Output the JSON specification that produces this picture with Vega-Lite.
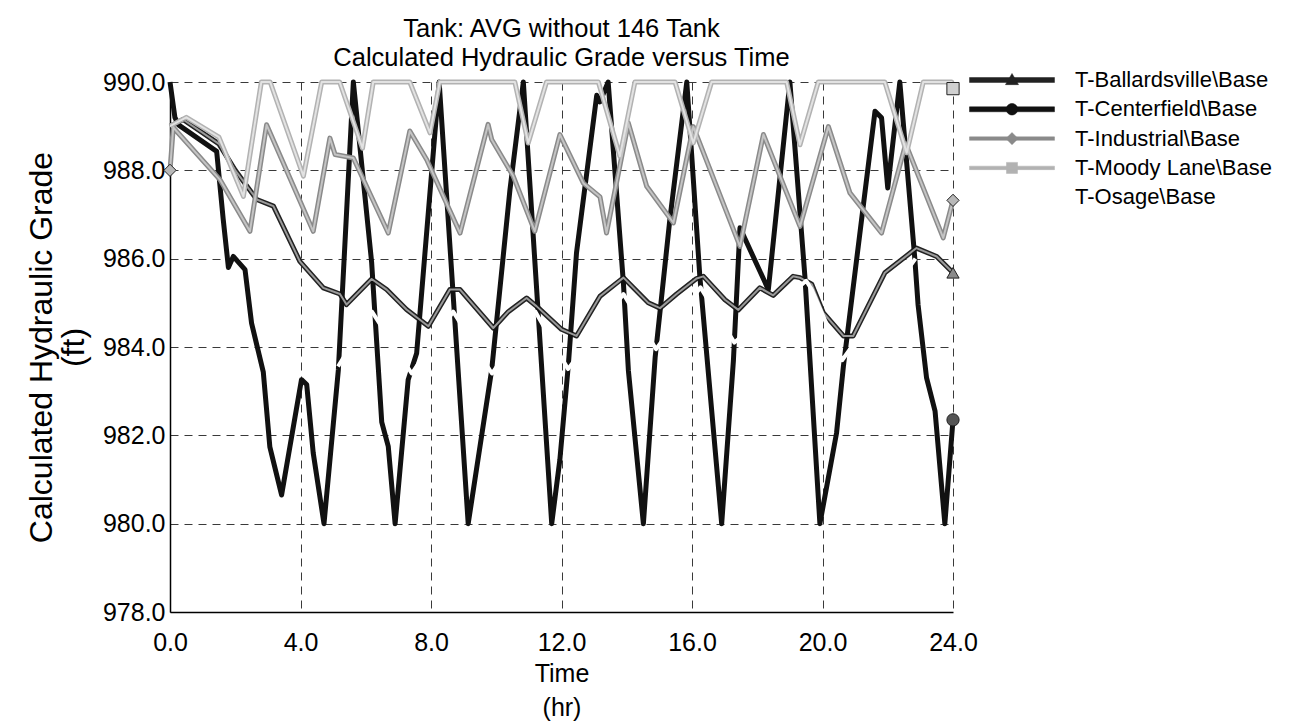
{
  "$schema": "https://vega.github.io/schema/vega-lite/v6.json",
  "width": 783,
  "height": 530,
  "autosize": {"type": "none"},
  "padding": {"left": 170, "top": 82, "right": 359, "bottom": 116},
  "background": "white",
  "title": {
    "text": ["Tank: AVG without 146 Tank", "Calculated Hydraulic Grade versus Time"],
    "font": "Liberation Sans",
    "fontSize": 25.5,
    "fontWeight": "normal",
    "lineHeight": 29,
    "color": "black",
    "anchor": "middle",
    "offset": -6
  },
  "data": {
    "values": [
      {"series": "T-Ballardsville\\Base", "t": 0, "v": 989.0},
      {"series": "T-Ballardsville\\Base", "t": 0.4, "v": 989.15},
      {"series": "T-Ballardsville\\Base", "t": 1.5, "v": 988.6},
      {"series": "T-Ballardsville\\Base", "t": 2.0, "v": 988.0},
      {"series": "T-Ballardsville\\Base", "t": 2.66, "v": 987.34},
      {"series": "T-Ballardsville\\Base", "t": 3.17, "v": 987.19},
      {"series": "T-Ballardsville\\Base", "t": 3.98, "v": 985.94},
      {"series": "T-Ballardsville\\Base", "t": 4.7, "v": 985.34},
      {"series": "T-Ballardsville\\Base", "t": 5.21, "v": 985.2},
      {"series": "T-Ballardsville\\Base", "t": 5.41, "v": 984.96},
      {"series": "T-Ballardsville\\Base", "t": 6.18, "v": 985.54},
      {"series": "T-Ballardsville\\Base", "t": 6.64, "v": 985.3},
      {"series": "T-Ballardsville\\Base", "t": 7.25, "v": 984.85},
      {"series": "T-Ballardsville\\Base", "t": 7.92, "v": 984.47},
      {"series": "T-Ballardsville\\Base", "t": 8.58, "v": 985.3},
      {"series": "T-Ballardsville\\Base", "t": 8.89, "v": 985.3},
      {"series": "T-Ballardsville\\Base", "t": 9.91, "v": 984.43},
      {"series": "T-Ballardsville\\Base", "t": 10.37, "v": 984.8},
      {"series": "T-Ballardsville\\Base", "t": 10.93, "v": 985.11},
      {"series": "T-Ballardsville\\Base", "t": 11.24, "v": 984.92},
      {"series": "T-Ballardsville\\Base", "t": 12.0, "v": 984.4},
      {"series": "T-Ballardsville\\Base", "t": 12.46, "v": 984.25},
      {"series": "T-Ballardsville\\Base", "t": 13.18, "v": 985.15},
      {"series": "T-Ballardsville\\Base", "t": 13.9, "v": 985.57},
      {"series": "T-Ballardsville\\Base", "t": 14.66, "v": 985.0},
      {"series": "T-Ballardsville\\Base", "t": 15.02, "v": 984.88},
      {"series": "T-Ballardsville\\Base", "t": 15.53, "v": 985.2},
      {"series": "T-Ballardsville\\Base", "t": 16.14, "v": 985.55},
      {"series": "T-Ballardsville\\Base", "t": 16.35, "v": 985.6},
      {"series": "T-Ballardsville\\Base", "t": 17.01, "v": 985.07},
      {"series": "T-Ballardsville\\Base", "t": 17.42, "v": 984.84},
      {"series": "T-Ballardsville\\Base", "t": 18.08, "v": 985.34},
      {"series": "T-Ballardsville\\Base", "t": 18.49, "v": 985.17},
      {"series": "T-Ballardsville\\Base", "t": 19.1, "v": 985.6},
      {"series": "T-Ballardsville\\Base", "t": 19.31, "v": 985.57},
      {"series": "T-Ballardsville\\Base", "t": 19.67, "v": 985.42},
      {"series": "T-Ballardsville\\Base", "t": 20.02, "v": 984.78},
      {"series": "T-Ballardsville\\Base", "t": 20.64, "v": 984.25},
      {"series": "T-Ballardsville\\Base", "t": 20.94, "v": 984.25},
      {"series": "T-Ballardsville\\Base", "t": 21.91, "v": 985.68},
      {"series": "T-Ballardsville\\Base", "t": 22.88, "v": 986.24},
      {"series": "T-Ballardsville\\Base", "t": 23.5, "v": 986.05},
      {"series": "T-Ballardsville\\Base", "t": 24, "v": 985.68},

      {"series": "T-Centerfield\\Base", "t": 0, "v": 990.0},
      {"series": "T-Centerfield\\Base", "t": 0.15, "v": 989.2},
      {"series": "T-Centerfield\\Base", "t": 0.26, "v": 989.03},
      {"series": "T-Centerfield\\Base", "t": 1.43, "v": 988.43},
      {"series": "T-Centerfield\\Base", "t": 1.63, "v": 986.9},
      {"series": "T-Centerfield\\Base", "t": 1.79, "v": 985.8},
      {"series": "T-Centerfield\\Base", "t": 1.94, "v": 986.05},
      {"series": "T-Centerfield\\Base", "t": 2.3, "v": 985.75},
      {"series": "T-Centerfield\\Base", "t": 2.5, "v": 984.54},
      {"series": "T-Centerfield\\Base", "t": 2.86, "v": 983.43},
      {"series": "T-Centerfield\\Base", "t": 3.06, "v": 981.74},
      {"series": "T-Centerfield\\Base", "t": 3.42, "v": 980.65},
      {"series": "T-Centerfield\\Base", "t": 4.03, "v": 983.26},
      {"series": "T-Centerfield\\Base", "t": 4.19, "v": 983.15},
      {"series": "T-Centerfield\\Base", "t": 4.39, "v": 981.6},
      {"series": "T-Centerfield\\Base", "t": 4.72, "v": 980.0},
      {"series": "T-Centerfield\\Base", "t": 5.16, "v": 983.48},
      {"series": "T-Centerfield\\Base", "t": 5.62, "v": 990.0},
      {"series": "T-Centerfield\\Base", "t": 6.18, "v": 985.92},
      {"series": "T-Centerfield\\Base", "t": 6.49, "v": 982.3},
      {"series": "T-Centerfield\\Base", "t": 6.69, "v": 981.75},
      {"series": "T-Centerfield\\Base", "t": 6.9, "v": 980.0},
      {"series": "T-Centerfield\\Base", "t": 7.3, "v": 983.26},
      {"series": "T-Centerfield\\Base", "t": 7.56, "v": 983.86},
      {"series": "T-Centerfield\\Base", "t": 8.25, "v": 990.0},
      {"series": "T-Centerfield\\Base", "t": 9.14, "v": 980.0},
      {"series": "T-Centerfield\\Base", "t": 9.86, "v": 983.48},
      {"series": "T-Centerfield\\Base", "t": 10.42, "v": 987.56},
      {"series": "T-Centerfield\\Base", "t": 10.83, "v": 990.0},
      {"series": "T-Centerfield\\Base", "t": 11.7, "v": 980.0},
      {"series": "T-Centerfield\\Base", "t": 11.95, "v": 981.45},
      {"series": "T-Centerfield\\Base", "t": 12.21, "v": 983.6},
      {"series": "T-Centerfield\\Base", "t": 12.46, "v": 986.13},
      {"series": "T-Centerfield\\Base", "t": 13.08, "v": 989.7},
      {"series": "T-Centerfield\\Base", "t": 13.18, "v": 989.55},
      {"series": "T-Centerfield\\Base", "t": 13.43, "v": 990.0},
      {"series": "T-Centerfield\\Base", "t": 13.9, "v": 985.42},
      {"series": "T-Centerfield\\Base", "t": 14.05, "v": 983.47},
      {"series": "T-Centerfield\\Base", "t": 14.51, "v": 980.0},
      {"series": "T-Centerfield\\Base", "t": 14.87, "v": 983.76},
      {"series": "T-Centerfield\\Base", "t": 15.32, "v": 986.88},
      {"series": "T-Centerfield\\Base", "t": 15.84, "v": 990.0},
      {"series": "T-Centerfield\\Base", "t": 16.24, "v": 985.6},
      {"series": "T-Centerfield\\Base", "t": 16.91, "v": 980.0},
      {"series": "T-Centerfield\\Base", "t": 17.27, "v": 983.7},
      {"series": "T-Centerfield\\Base", "t": 17.47, "v": 986.7},
      {"series": "T-Centerfield\\Base", "t": 18.34, "v": 985.3},
      {"series": "T-Centerfield\\Base", "t": 19.0, "v": 990.0},
      {"series": "T-Centerfield\\Base", "t": 19.46, "v": 985.6},
      {"series": "T-Centerfield\\Base", "t": 19.92, "v": 980.0},
      {"series": "T-Centerfield\\Base", "t": 20.43, "v": 982.05},
      {"series": "T-Centerfield\\Base", "t": 20.64, "v": 983.56},
      {"series": "T-Centerfield\\Base", "t": 21.61, "v": 989.34},
      {"series": "T-Centerfield\\Base", "t": 21.81, "v": 989.19},
      {"series": "T-Centerfield\\Base", "t": 22.0, "v": 987.6},
      {"series": "T-Centerfield\\Base", "t": 22.37, "v": 990.0},
      {"series": "T-Centerfield\\Base", "t": 22.83, "v": 986.0},
      {"series": "T-Centerfield\\Base", "t": 22.93, "v": 984.95},
      {"series": "T-Centerfield\\Base", "t": 23.19, "v": 983.3},
      {"series": "T-Centerfield\\Base", "t": 23.45, "v": 982.55},
      {"series": "T-Centerfield\\Base", "t": 23.75, "v": 980.0},
      {"series": "T-Centerfield\\Base", "t": 24, "v": 982.35},

      {"series": "T-Industrial\\Base", "t": 0, "v": 988.0},
      {"series": "T-Industrial\\Base", "t": 0.1, "v": 988.97},
      {"series": "T-Industrial\\Base", "t": 1.53, "v": 987.79},
      {"series": "T-Industrial\\Base", "t": 2.45, "v": 986.62},
      {"series": "T-Industrial\\Base", "t": 2.96, "v": 989.03},
      {"series": "T-Industrial\\Base", "t": 4.39, "v": 986.62},
      {"series": "T-Industrial\\Base", "t": 4.9, "v": 988.73},
      {"series": "T-Industrial\\Base", "t": 5.06, "v": 988.36},
      {"series": "T-Industrial\\Base", "t": 5.62, "v": 988.28},
      {"series": "T-Industrial\\Base", "t": 6.69, "v": 986.58},
      {"series": "T-Industrial\\Base", "t": 7.35, "v": 988.89},
      {"series": "T-Industrial\\Base", "t": 7.87, "v": 988.24},
      {"series": "T-Industrial\\Base", "t": 8.89, "v": 986.58},
      {"series": "T-Industrial\\Base", "t": 9.75, "v": 989.04},
      {"series": "T-Industrial\\Base", "t": 9.86, "v": 988.7},
      {"series": "T-Industrial\\Base", "t": 10.52, "v": 987.87},
      {"series": "T-Industrial\\Base", "t": 11.18, "v": 986.62},
      {"series": "T-Industrial\\Base", "t": 11.95, "v": 988.81},
      {"series": "T-Industrial\\Base", "t": 12.67, "v": 987.71},
      {"series": "T-Industrial\\Base", "t": 13.18, "v": 987.4},
      {"series": "T-Industrial\\Base", "t": 13.38, "v": 986.58},
      {"series": "T-Industrial\\Base", "t": 14.05, "v": 989.07},
      {"series": "T-Industrial\\Base", "t": 14.61, "v": 987.64},
      {"series": "T-Industrial\\Base", "t": 15.43, "v": 986.81},
      {"series": "T-Industrial\\Base", "t": 16.04, "v": 988.99},
      {"series": "T-Industrial\\Base", "t": 17.47, "v": 986.28},
      {"series": "T-Industrial\\Base", "t": 18.19, "v": 988.81},
      {"series": "T-Industrial\\Base", "t": 19.31, "v": 986.73},
      {"series": "T-Industrial\\Base", "t": 20.18, "v": 988.99},
      {"series": "T-Industrial\\Base", "t": 20.84, "v": 987.49},
      {"series": "T-Industrial\\Base", "t": 21.81, "v": 986.58},
      {"series": "T-Industrial\\Base", "t": 22.55, "v": 988.6},
      {"series": "T-Industrial\\Base", "t": 23.7, "v": 986.47},
      {"series": "T-Industrial\\Base", "t": 24, "v": 987.32},

      {"series": "T-Moody Lane\\Base", "t": 0, "v": 989.0},
      {"series": "T-Moody Lane\\Base", "t": 0.5, "v": 989.2},
      {"series": "T-Moody Lane\\Base", "t": 1.5, "v": 988.75},
      {"series": "T-Moody Lane\\Base", "t": 2.25, "v": 987.41},
      {"series": "T-Moody Lane\\Base", "t": 2.8, "v": 990.0},
      {"series": "T-Moody Lane\\Base", "t": 3.07, "v": 990.0},
      {"series": "T-Moody Lane\\Base", "t": 4.09, "v": 987.87},
      {"series": "T-Moody Lane\\Base", "t": 4.65, "v": 990.0},
      {"series": "T-Moody Lane\\Base", "t": 5.2, "v": 990.0},
      {"series": "T-Moody Lane\\Base", "t": 5.9, "v": 988.5},
      {"series": "T-Moody Lane\\Base", "t": 6.23, "v": 990.0},
      {"series": "T-Moody Lane\\Base", "t": 7.35, "v": 990.0},
      {"series": "T-Moody Lane\\Base", "t": 7.97, "v": 988.85},
      {"series": "T-Moody Lane\\Base", "t": 8.27, "v": 990.0},
      {"series": "T-Moody Lane\\Base", "t": 10.57, "v": 990.0},
      {"series": "T-Moody Lane\\Base", "t": 10.98, "v": 988.62},
      {"series": "T-Moody Lane\\Base", "t": 11.54, "v": 990.0},
      {"series": "T-Moody Lane\\Base", "t": 13.13, "v": 990.0},
      {"series": "T-Moody Lane\\Base", "t": 13.79, "v": 988.32},
      {"series": "T-Moody Lane\\Base", "t": 14.25, "v": 990.0},
      {"series": "T-Moody Lane\\Base", "t": 15.48, "v": 990.0},
      {"series": "T-Moody Lane\\Base", "t": 16.04, "v": 988.62},
      {"series": "T-Moody Lane\\Base", "t": 16.6, "v": 990.0},
      {"series": "T-Moody Lane\\Base", "t": 18.9, "v": 990.0},
      {"series": "T-Moody Lane\\Base", "t": 19.31, "v": 988.58},
      {"series": "T-Moody Lane\\Base", "t": 19.87, "v": 990.0},
      {"series": "T-Moody Lane\\Base", "t": 21.91, "v": 990.0},
      {"series": "T-Moody Lane\\Base", "t": 22.58, "v": 988.4},
      {"series": "T-Moody Lane\\Base", "t": 23.09, "v": 990.0},
      {"series": "T-Moody Lane\\Base", "t": 23.96, "v": 990.0},
      {"series": "T-Moody Lane\\Base", "t": 24, "v": 989.85},

      {"series": "T-Osage\\Base", "t": 5.15, "v": 983.56},
      {"series": "T-Osage\\Base", "t": 6.19, "v": 984.8},
      {"series": "T-Osage\\Base", "t": 7.41, "v": 983.4},
      {"series": "T-Osage\\Base", "t": 8.68, "v": 984.8},
      {"series": "T-Osage\\Base", "t": 9.87, "v": 983.4},
      {"series": "T-Osage\\Base", "t": 11.2, "v": 984.8},
      {"series": "T-Osage\\Base", "t": 12.2, "v": 983.5},
      {"series": "T-Osage\\Base", "t": 13.9, "v": 985.2},
      {"series": "T-Osage\\Base", "t": 14.9, "v": 983.95},
      {"series": "T-Osage\\Base", "t": 16.26, "v": 985.35},
      {"series": "T-Osage\\Base", "t": 17.3, "v": 984.1},
      {"series": "T-Osage\\Base", "t": 19.5, "v": 985.5},
      {"series": "T-Osage\\Base", "t": 19.67, "v": 985.3},
      {"series": "T-Osage\\Base", "t": 20.02, "v": 984.7},
      {"series": "T-Osage\\Base", "t": 20.6, "v": 983.7},
      {"series": "T-Osage\\Base", "t": 22.85, "v": 986.0}
    ]
  },
  "encoding": {
    "x": {
      "field": "t",
      "type": "quantitative",
      "scale": {"domain": [0, 24], "nice": false},
      "axis": {
        "values": [0, 4, 8, 12, 16, 20, 24],
        "format": ".1f",
        "labelPadding": 18,
        "labelFlush": false,
        "labelOverlap": false,
        "title": ["Time", "(hr)"],
        "titleLineHeight": 34,
        "titlePadding": 6
      }
    },
    "y": {
      "field": "v",
      "type": "quantitative",
      "scale": {"domain": [978, 990], "nice": false, "zero": false},
      "axis": {
        "values": [978, 980, 982, 984, 986, 988, 990],
        "format": ".1f",
        "labelPadding": 5,
        "labelFlush": false,
        "labelOverlap": false,
        "title": ["Calculated Hydraulic Grade", "(ft)"],
        "titleFontSize": 32,
        "titleLineHeight": 32,
        "titlePadding": 12
      }
    }
  },
  "layer": [
    {
      "transform": [{"filter": "indexof(datum.series, 'Osage') < 0"}],
      "mark": {"type": "line", "strokeWidth": 5, "strokeJoin": "round", "strokeCap": "butt"},
      "encoding": {
        "color": {
          "field": "series",
          "type": "nominal",
          "scale": {
            "domain": ["T-Ballardsville\\Base", "T-Centerfield\\Base", "T-Industrial\\Base", "T-Moody Lane\\Base", "T-Osage\\Base"],
            "range": ["#222222", "#111111", "#8a8a8a", "#b2b2b2", "#ffffff"]
          },
          "legend": {
            "title": null,
            "orient": "none",
            "legendX": 827,
            "legendY": -17,
            "padding": 0,
            "symbolSize": 841,
            "rowPadding": 3.3,
            "labelOffset": 48,
            "labelFontSize": 22,
            "labelFont": "Liberation Sans",
            "labelColor": "black",
            "labelLimit": 400,
            "symbolStrokeWidth": 0.5,
            "symbolOpacity": 1,
            "encode": {
              "symbols": {
                "update": {
                  "shape": {"signal": "indexof(datum.value,'Ballard')>=0 ? 'M-2.93,-0.17H2.93V0.17H-2.93Z M-0.45,0.32L0,-0.45L0.45,0.32Z' : indexof(datum.value,'Center')>=0 ? 'M-2.93,-0.17H2.93V0.17H-2.93Z M-0.4,0A0.4,0.4 0 1,1 0.4,0A0.4,0.4 0 1,1 -0.4,0Z' : indexof(datum.value,'Industrial')>=0 ? 'M-2.93,-0.12H2.93V0.12H-2.93Z M0,-0.42L0.42,0L0,0.42L-0.42,0Z' : indexof(datum.value,'Moody')>=0 ? 'M-2.93,-0.12H2.93V0.12H-2.93Z M-0.38,-0.38H0.38V0.38H-0.38Z' : 'M-0.01,-0.01H0.01V0.01H-0.01Z'"},
                  "fill": {"scale": "color", "field": "value"},
                  "stroke": {"scale": "color", "field": "value"}
                }
              }
            }
          }
        }
      }
    },
    {
      "transform": [{"filter": "indexof(datum.series, 'Osage') < 0 && indexof(datum.series, 'Center') < 0"}],
      "mark": {"type": "line", "strokeWidth": 2, "strokeJoin": "round"},
      "encoding": {
        "detail": {"field": "series"},
        "stroke": {
          "condition": [
            {"test": "indexof(datum.series,'Ballard')>=0", "value": "#9a9a9a"},
            {"test": "indexof(datum.series,'Industrial')>=0", "value": "#c4c4c4"}
          ],
          "value": "#e2e2e2"
        }
      }
    },
    {
      "transform": [{"filter": "indexof(datum.series, 'Osage') >= 0"}],
      "mark": {"type": "line", "strokeWidth": 4, "stroke": "white", "strokeJoin": "round"},
      "encoding": {"detail": {"field": "series"}}
    },
    {
      "transform": [{"filter": "datum.t == 24 || (datum.t == 0 && indexof(datum.series,'Industrial')>=0)"}],
      "mark": {"type": "point", "filled": true, "size": 150, "stroke": "#222222", "strokeWidth": 1, "opacity": 1},
      "encoding": {
        "shape": {
          "condition": [
            {"test": "indexof(datum.series,'Ballard')>=0", "value": "triangle-up"},
            {"test": "indexof(datum.series,'Center')>=0", "value": "circle"},
            {"test": "indexof(datum.series,'Industrial')>=0", "value": "diamond"}
          ],
          "value": "square"
        },
        "fill": {
          "condition": [
            {"test": "indexof(datum.series,'Ballard')>=0", "value": "#8a8a8a"},
            {"test": "indexof(datum.series,'Center')>=0", "value": "#555555"},
            {"test": "indexof(datum.series,'Industrial')>=0", "value": "#b8b8b8"}
          ],
          "value": "#d0d0d0"
        }
      }
    }
  ],
  "config": {
    "view": {"stroke": null},
    "font": "Liberation Sans",
    "axis": {
      "labelFont": "Liberation Sans",
      "titleFont": "Liberation Sans",
      "labelFontSize": 25,
      "titleFontSize": 25,
      "titleFontWeight": "normal",
      "labelColor": "black",
      "titleColor": "black",
      "gridColor": "#3a3a3a",
      "gridDash": [8, 6],
      "gridWidth": 1,
      "gridOpacity": 1,
      "domainColor": "black",
      "domainWidth": 1.5,
      "ticks": false
    }
  }
}
